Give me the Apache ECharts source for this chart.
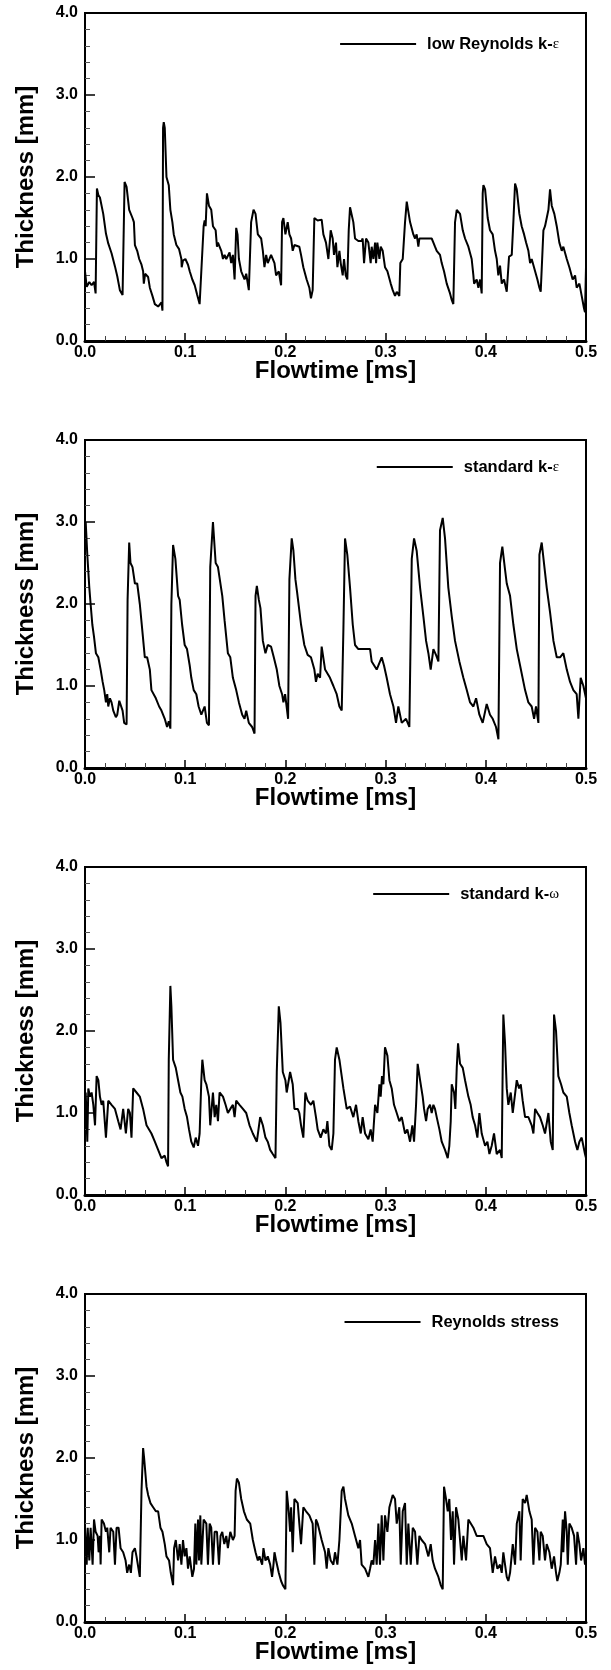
<!DOCTYPE html>
<html>
<head>
<meta charset="utf-8">
<script src="https://cdn.jsdelivr.net/npm/echarts@6/dist/echarts.min.js"></script>
<style>
html,body{margin:0;padding:0;background:#fff;}
#chart{width:611px;height:1670px;}
</style>
</head>
<body>
<div id="chart"></div>
<script>
// ---------- data (time in ms, thickness in mm) ----------
const lowReT = [0.000,0.0017,0.0043,0.0066,0.0090,0.0106,0.0116,0.0119,0.0133,0.0149,0.0182,0.0209,0.0232,0.0265,0.0299,0.0322,0.0348,0.0375,0.0388,0.0395,0.0415,0.0441,0.0474,0.0488,0.0498,0.0521,0.0541,0.0564,0.0580,0.0587,0.0600,0.0630,0.0647,0.0673,0.0697,0.0730,0.0746,0.0763,0.0773,0.0779,0.0786,0.0796,0.0813,0.0836,0.0852,0.0872,0.0886,0.0912,0.0939,0.0962,0.0965,0.0978,0.1002,0.1028,0.1045,0.1071,0.1095,0.1118,0.1144,0.1158,0.1184,0.1194,0.1204,0.1217,0.1237,0.1260,0.1277,0.1304,0.1317,0.1327,0.1360,0.1377,0.1393,0.1410,0.1443,0.1459,0.1476,0.1493,0.1509,0.1522,0.1536,0.1559,0.1592,0.1609,0.1635,0.1658,0.1682,0.1702,0.1725,0.1758,0.1775,0.1791,0.1808,0.1824,0.1857,0.1891,0.1907,0.1934,0.1957,0.1967,0.1980,0.2000,0.2023,0.2040,0.2057,0.2073,0.2090,0.2139,0.2156,0.2179,0.2212,0.2239,0.2255,0.2272,0.2289,0.2322,0.2362,0.2379,0.2405,0.2429,0.2452,0.2472,0.2485,0.2505,0.2519,0.2539,0.2552,0.2572,0.2585,0.2602,0.2618,0.2632,0.2645,0.2678,0.2695,0.2728,0.2761,0.2771,0.2785,0.2805,0.2828,0.2851,0.2861,0.2878,0.2895,0.2905,0.2918,0.2938,0.2951,0.2971,0.2994,0.3018,0.3051,0.3071,0.3094,0.3111,0.3137,0.3147,0.3171,0.3194,0.3211,0.3244,0.3277,0.3294,0.3310,0.3327,0.3337,0.3460,0.3477,0.3493,0.3510,0.3543,0.3560,0.3583,0.3610,0.3643,0.3660,0.3676,0.3693,0.3710,0.3726,0.3743,0.3770,0.3793,0.3826,0.3859,0.3876,0.3883,0.3909,0.3926,0.3943,0.3959,0.3969,0.3976,0.3993,0.4019,0.4042,0.4069,0.4092,0.4109,0.4125,0.4142,0.4159,0.4182,0.4209,0.4225,0.4232,0.4259,0.4275,0.4292,0.4309,0.4335,0.4358,0.4382,0.4402,0.4425,0.4442,0.4458,0.4492,0.4515,0.4535,0.4548,0.4575,0.4591,0.4625,0.4641,0.4658,0.4684,0.4708,0.4734,0.4758,0.4774,0.4808,0.4834,0.4867,0.4891,0.4907,0.4934,0.4957,0.4980,0.4990,0.5000];
const lowReY = [0.85,0.66,0.72,0.68,0.72,0.58,0.60,1.86,1.78,1.75,1.55,1.31,1.19,1.07,0.91,0.79,0.62,0.56,0.58,1.94,1.88,1.60,1.50,1.45,1.17,1.10,1.00,0.93,0.85,0.70,0.82,0.78,0.65,0.55,0.45,0.42,0.40,0.47,0.37,2.60,2.67,2.60,2.00,1.90,1.60,1.45,1.30,1.17,1.12,1.00,0.90,0.98,1.00,0.93,0.85,0.75,0.68,0.57,0.45,0.47,1.40,1.47,1.40,1.80,1.65,1.60,1.40,1.35,1.15,1.20,1.10,1.00,1.05,1.00,1.08,0.95,1.05,0.75,1.38,1.30,1.00,0.85,0.75,0.82,0.62,1.45,1.60,1.55,1.30,1.25,1.10,0.90,1.05,0.95,1.05,0.95,0.80,0.85,0.68,1.45,1.50,1.30,1.45,1.30,1.25,1.10,1.17,1.15,1.05,0.90,0.75,0.65,0.52,0.62,1.50,1.47,1.48,1.30,1.20,1.00,1.35,1.25,1.05,1.20,0.90,1.10,0.95,0.80,1.00,0.80,0.75,1.35,1.63,1.45,1.25,1.22,1.22,1.25,0.95,1.25,1.20,0.95,1.15,1.00,1.20,0.95,1.20,1.00,1.15,1.10,0.90,0.85,0.70,0.62,0.55,0.60,0.55,0.95,1.00,1.45,1.70,1.45,1.30,1.25,1.30,1.15,1.25,1.25,1.20,1.15,1.10,1.05,0.95,0.85,0.70,0.58,0.50,0.45,1.45,1.60,1.58,1.55,1.35,1.25,1.15,1.00,0.80,0.70,0.75,0.65,0.75,0.58,1.80,1.90,1.85,1.50,1.35,1.30,1.10,1.00,0.80,0.92,0.70,0.75,0.60,0.62,1.03,1.05,1.45,1.92,1.85,1.55,1.40,1.30,1.20,1.10,0.95,1.00,0.85,0.75,0.65,0.60,1.35,1.40,1.60,1.85,1.65,1.55,1.40,1.20,1.10,1.15,1.00,0.90,0.75,0.80,0.65,0.70,0.55,0.40,0.35,0.90];

const stdKeT = [0.0007,0.0023,0.0043,0.0056,0.0073,0.0090,0.0109,0.0133,0.0156,0.0176,0.0192,0.0209,0.0222,0.0232,0.0249,0.0265,0.0282,0.0308,0.0322,0.0342,0.0355,0.0375,0.0391,0.0415,0.0425,0.0441,0.0454,0.0474,0.0498,0.0521,0.0547,0.0574,0.0597,0.0620,0.0647,0.0663,0.0680,0.0707,0.0740,0.0763,0.0796,0.0819,0.0836,0.0852,0.0862,0.0879,0.0902,0.0929,0.0945,0.0969,0.0995,0.1018,0.1045,0.1061,0.1085,0.1111,0.1134,0.1161,0.1178,0.1194,0.1217,0.1237,0.1250,0.1277,0.1304,0.1327,0.1370,0.1393,0.1426,0.1450,0.1476,0.1509,0.1536,0.1569,0.1592,0.1609,0.1635,0.1668,0.1692,0.1702,0.1715,0.1735,0.1751,0.1775,0.1801,0.1824,0.1857,0.1884,0.1914,0.1940,0.1967,0.1980,0.1997,0.2027,0.2040,0.2063,0.2080,0.2100,0.2116,0.2156,0.2189,0.2222,0.2255,0.2289,0.2305,0.2322,0.2346,0.2362,0.2396,0.2445,0.2479,0.2512,0.2539,0.2562,0.2579,0.2595,0.2618,0.2645,0.2672,0.2695,0.2728,0.2845,0.2861,0.2911,0.2961,0.2984,0.3011,0.3044,0.3078,0.3104,0.3127,0.3161,0.3204,0.3237,0.3261,0.3284,0.3310,0.3344,0.3377,0.3404,0.3427,0.3450,0.3477,0.3503,0.3527,0.3543,0.3570,0.3593,0.3626,0.3660,0.3693,0.3736,0.3776,0.3810,0.3843,0.3876,0.3903,0.3936,0.3969,0.4009,0.4042,0.4069,0.4102,0.4126,0.4142,0.4165,0.4189,0.4209,0.4242,0.4275,0.4309,0.4342,0.4392,0.4425,0.4458,0.4482,0.4501,0.4525,0.4535,0.4558,0.4585,0.4608,0.4641,0.4675,0.4708,0.4741,0.4774,0.4808,0.4841,0.4874,0.4907,0.4924,0.4947,0.4974,0.5000];
const stdKeY = [3.00,2.60,2.20,2.00,1.75,1.60,1.40,1.35,1.20,1.05,0.95,0.80,0.90,0.75,0.85,0.80,0.70,0.62,0.65,0.82,0.82,0.70,0.55,0.53,2.05,2.75,2.50,2.45,2.25,2.25,2.00,1.65,1.35,1.35,1.20,0.95,0.97,0.85,0.75,0.70,0.60,0.50,0.57,0.48,2.00,2.72,2.55,2.10,2.05,1.75,1.50,1.45,1.25,1.10,0.95,0.90,0.75,0.65,0.65,0.75,0.55,0.52,2.45,3.00,2.50,2.45,2.10,1.80,1.40,1.35,1.10,0.95,0.80,0.65,0.60,0.70,0.55,0.50,0.42,2.10,2.22,2.05,1.95,1.55,1.40,1.50,1.48,1.35,1.20,1.00,0.90,0.80,0.90,0.60,2.30,2.80,2.65,2.30,2.15,1.75,1.50,1.38,1.35,1.20,1.05,1.15,1.10,1.48,1.20,1.10,1.00,0.90,0.75,0.70,1.70,2.80,2.60,2.20,1.75,1.50,1.45,1.45,1.30,1.20,1.35,1.25,1.10,0.90,0.75,0.55,0.75,0.55,0.60,0.50,2.55,2.80,2.65,2.20,1.85,1.55,1.40,1.20,1.45,1.38,1.30,2.90,3.05,2.80,2.20,1.85,1.55,1.30,1.10,0.95,0.80,0.75,0.85,0.65,0.55,0.78,0.65,0.60,0.50,0.35,2.50,2.70,2.45,2.25,2.10,1.75,1.45,1.25,0.95,0.80,0.75,0.60,0.75,0.55,2.60,2.75,2.45,2.20,1.90,1.55,1.35,1.35,1.40,1.20,1.05,0.95,0.90,0.60,1.10,1.00,0.85];

const stdKwT = [0.0007,0.0023,0.0033,0.0050,0.0066,0.0083,0.0100,0.0116,0.0133,0.0149,0.0166,0.0182,0.0209,0.0232,0.0265,0.0299,0.0332,0.0355,0.0381,0.0408,0.0431,0.0448,0.0464,0.0481,0.0514,0.0547,0.0580,0.0614,0.0663,0.0697,0.0730,0.0763,0.0796,0.0813,0.0829,0.0836,0.0852,0.0862,0.0879,0.0906,0.0929,0.0952,0.0972,0.0995,0.1018,0.1038,0.1061,0.1085,0.1105,0.1128,0.1144,0.1161,0.1171,0.1194,0.1211,0.1237,0.1250,0.1277,0.1294,0.1310,0.1327,0.1343,0.1377,0.1403,0.1426,0.1450,0.1476,0.1493,0.1509,0.1542,0.1576,0.1609,0.1642,0.1675,0.1692,0.1715,0.1748,0.1775,0.1801,0.1824,0.1848,0.1874,0.1901,0.1914,0.1934,0.1951,0.1974,0.2000,0.2013,0.2047,0.2073,0.2090,0.2123,0.2139,0.2156,0.2179,0.2199,0.2222,0.2255,0.2279,0.2305,0.2322,0.2352,0.2379,0.2405,0.2419,0.2439,0.2462,0.2479,0.2495,0.2512,0.2539,0.2562,0.2579,0.2612,0.2645,0.2678,0.2705,0.2728,0.2752,0.2771,0.2795,0.2828,0.2851,0.2871,0.2895,0.2918,0.2938,0.2951,0.2964,0.2978,0.2994,0.3018,0.3038,0.3061,0.3084,0.3111,0.3137,0.3161,0.3194,0.3217,0.3244,0.3267,0.3284,0.3304,0.3320,0.3344,0.3370,0.3384,0.3404,0.3420,0.3443,0.3460,0.3477,0.3493,0.3510,0.3537,0.3560,0.3593,0.3620,0.3636,0.3650,0.3660,0.3683,0.3696,0.3710,0.3723,0.3743,0.3770,0.3793,0.3826,0.3849,0.3869,0.3893,0.3916,0.3936,0.3959,0.3993,0.4016,0.4036,0.4059,0.4082,0.4109,0.4142,0.4159,0.4169,0.4175,0.4192,0.4209,0.4225,0.4249,0.4269,0.4309,0.4332,0.4349,0.4368,0.4392,0.4425,0.4458,0.4475,0.4492,0.4515,0.4541,0.4568,0.4591,0.4625,0.4648,0.4668,0.4675,0.4681,0.4701,0.4724,0.4751,0.4774,0.4808,0.4834,0.4857,0.4891,0.4914,0.4934,0.4957,0.4990,0.5000];
const stdKwY = [1.25,0.65,1.30,1.20,1.25,1.10,0.85,1.45,1.40,1.20,1.10,1.15,0.70,1.15,1.10,1.05,0.90,0.80,1.05,0.75,1.05,1.00,0.70,1.30,1.25,1.20,1.05,0.85,0.75,0.65,0.55,0.45,0.48,0.40,0.35,1.65,2.55,2.30,1.65,1.55,1.40,1.25,1.20,1.05,0.95,0.80,0.65,0.58,0.70,0.60,0.75,1.40,1.65,1.40,1.35,1.20,0.85,1.25,0.95,1.10,0.90,1.25,1.20,1.10,1.00,1.05,1.10,0.95,1.15,1.10,1.05,1.00,0.85,0.75,0.75,0.65,0.95,0.85,0.70,0.65,0.55,0.50,0.45,1.50,2.30,2.10,1.50,1.40,1.25,1.50,1.35,1.05,1.05,1.00,0.85,0.70,1.25,1.15,1.10,1.15,0.95,0.80,0.70,0.80,0.75,0.90,0.60,0.55,0.75,1.65,1.80,1.65,1.45,1.30,1.05,1.08,0.95,1.10,0.90,0.75,0.95,0.75,0.68,0.80,0.65,1.10,1.00,1.35,1.20,1.45,1.35,1.80,1.70,1.40,1.30,1.10,1.00,0.90,0.95,0.75,0.80,0.65,0.85,0.65,1.10,1.60,1.40,1.20,1.05,0.90,1.05,1.10,1.00,1.10,1.05,0.95,0.80,0.65,0.55,0.45,0.60,0.90,1.35,1.25,1.05,1.55,1.85,1.60,1.55,1.40,1.20,1.10,0.95,0.85,0.70,1.00,0.75,0.60,0.65,0.50,0.60,0.75,0.50,0.55,0.45,1.60,2.20,1.85,1.30,1.10,1.25,1.00,1.40,1.30,1.35,1.15,0.95,0.95,0.85,0.75,1.05,1.00,0.95,0.85,0.75,1.00,0.65,0.55,1.50,2.20,2.00,1.45,1.35,1.25,1.20,1.00,0.85,0.65,0.55,0.65,0.70,0.50,0.45];

const rsmT = [0.0000,0.0017,0.0027,0.0043,0.0056,0.0076,0.0090,0.0106,0.0126,0.0136,0.0149,0.0156,0.0166,0.0189,0.0209,0.0222,0.0242,0.0255,0.0282,0.0299,0.0315,0.0335,0.0355,0.0381,0.0405,0.0421,0.0441,0.0458,0.0474,0.0498,0.0514,0.0547,0.0564,0.0580,0.0590,0.0614,0.0630,0.0653,0.0680,0.0707,0.0730,0.0753,0.0773,0.0796,0.0813,0.0839,0.0856,0.0879,0.0889,0.0906,0.0929,0.0945,0.0962,0.0978,0.0995,0.1012,0.1028,0.1045,0.1071,0.1088,0.1101,0.1111,0.1128,0.1138,0.1151,0.1161,0.1184,0.1211,0.1227,0.1244,0.1260,0.1277,0.1294,0.1317,0.1337,0.1353,0.1370,0.1390,0.1410,0.1426,0.1450,0.1476,0.1493,0.1503,0.1516,0.1536,0.1559,0.1586,0.1615,0.1649,0.1675,0.1702,0.1725,0.1741,0.1768,0.1781,0.1801,0.1824,0.1848,0.1867,0.1881,0.1891,0.1907,0.1934,0.1957,0.1974,0.2000,0.2013,0.2033,0.2047,0.2057,0.2073,0.2090,0.2123,0.2139,0.2156,0.2179,0.2206,0.2239,0.2272,0.2289,0.2305,0.2322,0.2362,0.2396,0.2412,0.2429,0.2452,0.2479,0.2495,0.2519,0.2539,0.2562,0.2579,0.2595,0.2628,0.2662,0.2695,0.2728,0.2745,0.2761,0.2795,0.2828,0.2845,0.2861,0.2878,0.2895,0.2911,0.2928,0.2944,0.2961,0.2978,0.2994,0.3018,0.3038,0.3071,0.3094,0.3111,0.3137,0.3151,0.3171,0.3194,0.3211,0.3227,0.3251,0.3271,0.3294,0.3317,0.3337,0.3360,0.3394,0.3427,0.3450,0.3470,0.3493,0.3527,0.3550,0.3570,0.3583,0.3603,0.3620,0.3636,0.3653,0.3670,0.3683,0.3703,0.3726,0.3760,0.3776,0.3803,0.3826,0.3876,0.3909,0.3976,0.4009,0.4042,0.4069,0.4092,0.4116,0.4142,0.4159,0.4175,0.4209,0.4225,0.4242,0.4269,0.4292,0.4309,0.4335,0.4348,0.4368,0.4392,0.4408,0.4435,0.4458,0.4475,0.4492,0.4515,0.4535,0.4548,0.4568,0.4591,0.4608,0.4635,0.4658,0.4681,0.4701,0.4714,0.4734,0.4748,0.4768,0.4774,0.4791,0.4808,0.4818,0.4834,0.4857,0.4881,0.4901,0.4914,0.4934,0.4951,0.4974,0.4990,0.5000];
const rsmY = [1.15,0.70,1.15,0.75,1.15,0.70,1.25,1.10,1.05,0.85,1.05,0.70,1.25,1.20,1.10,1.15,0.85,1.15,1.10,0.70,1.15,1.15,0.90,0.85,0.75,0.60,0.70,0.60,0.85,0.90,0.80,0.55,1.60,2.12,2.00,1.65,1.55,1.45,1.40,1.35,1.35,1.15,1.10,0.95,0.80,0.75,0.60,0.45,0.90,1.00,0.75,0.95,0.70,1.00,0.80,0.90,0.65,0.80,0.55,0.65,1.20,0.70,1.25,0.75,1.30,0.70,1.25,1.20,0.70,1.20,1.15,0.70,1.10,1.10,0.70,1.05,1.10,0.95,1.05,0.90,1.10,1.00,1.05,1.60,1.75,1.70,1.50,1.35,1.25,1.20,1.00,0.85,0.75,0.80,0.70,0.90,0.75,0.80,0.70,0.55,0.70,0.85,0.75,0.60,0.50,0.45,0.40,1.60,1.35,1.10,1.40,0.85,1.50,1.45,1.20,0.95,1.40,1.35,1.30,1.20,0.70,1.25,1.20,1.00,0.85,0.65,0.90,0.75,0.70,0.85,0.70,1.00,1.60,1.65,1.50,1.30,1.20,1.05,0.90,1.00,0.70,0.65,0.55,0.65,0.75,0.70,1.00,0.70,1.20,0.70,1.30,0.75,1.30,1.10,1.40,1.55,1.50,1.20,1.40,0.70,1.35,1.45,0.70,1.20,0.70,1.15,1.10,0.70,1.05,1.00,0.95,0.80,0.95,0.75,0.65,0.55,0.45,0.40,1.65,1.50,1.35,1.50,1.00,1.35,0.70,1.40,1.25,0.75,1.05,0.75,1.25,1.15,1.05,1.05,0.95,0.90,0.60,0.80,0.65,0.70,0.60,0.85,0.55,0.50,0.60,0.95,0.70,1.20,1.35,0.75,1.50,1.45,1.55,1.35,1.25,0.70,1.15,1.10,0.75,1.10,1.05,0.75,0.95,0.85,0.65,0.80,0.60,0.50,0.60,0.70,1.25,0.85,1.35,1.10,0.70,1.20,1.15,1.05,0.70,1.10,0.95,0.75,0.90,0.70,0.80];

const seriesNames = ['low Reynolds k-', 'standard k-', 'standard k-', 'Reynolds stress'];
const greekSuffix = ['ε', 'ε', 'ω', ''];
const seriesIds = ['lowRe', 'stdKe', 'stdKw', 'rsm'];
const timeArrays = [lowReT, stdKeT, stdKwT, rsmT];
const valueArrays = [lowReY, stdKeY, stdKwY, rsmY];
const xTickLabels = ['0.0', '0.1', '0.2', '0.3', '0.4', '0.5'];
const yTickLabels = ['0.0', '1.0', '2.0', '3.0', '4.0'];
const xTitle = 'Flowtime [ms]';
const yTitle = 'Thickness [mm]';

// ---------- layout ----------
const gridTop0 = 13, gridStep = 427, gridH = 328, gridLeft = 85, gridW = 501;
const legendCenterOffset = [31, 27, 27, 28];

const chart = echarts.init(document.getElementById('chart'), null, {renderer: 'canvas'});

const tickFont = {color: '#000', fontFamily: 'Liberation Sans', fontWeight: 'bold', fontSize: 16};
const grids = [], xAxes = [], yAxes = [], series = [], legends = [];
for (let i = 0; i < 4; i++) {
  const top = gridTop0 + gridStep * i;
  grids.push({left: gridLeft, top: top, width: gridW, height: gridH, show: true,
    borderColor: '#000', borderWidth: 2, backgroundColor: 'transparent', outerBoundsMode: 'none'});
  xAxes.push({
    gridIndex: i, type: 'value', min: 0, max: 0.5, interval: 0.1,
    axisLine: {show: true, onZero: false, lineStyle: {color: '#000', width: 3}},
    axisTick: {show: true, inside: true, length: 8, lineStyle: {color: '#000', width: 1.5}},
    minorTick: {show: true, splitNumber: 5, length: 5, lineStyle: {color: '#444', width: 1}},
    splitLine: {show: false},
    axisLabel: Object.assign({show: true, margin: 4, showMinLabel: true, showMaxLabel: true, hideOverlap: false,
      formatter: v => xTickLabels[Math.round(v * 10)]}, tickFont),
    name: xTitle, nameLocation: 'middle', nameGap: 18, nameMoveOverlap: false,
    nameTextStyle: {color: '#000', fontFamily: 'Liberation Sans', fontWeight: 'bold', fontSize: 24}
  });
  yAxes.push({
    gridIndex: i, type: 'value', min: 0, max: 4, interval: 1,
    axisLine: {show: true, onZero: false, lineStyle: {color: '#000', width: 2}},
    axisTick: {show: true, inside: true, length: 10, lineStyle: {color: '#000', width: 1.5}},
    minorTick: {show: true, splitNumber: 5, length: 5, lineStyle: {color: '#555', width: 1}},
    splitLine: {show: false},
    axisLabel: Object.assign({show: true, margin: 7, showMinLabel: true, showMaxLabel: true, hideOverlap: false,
      formatter: v => yTickLabels[Math.round(v)]}, tickFont),
    name: yTitle, nameLocation: 'middle', nameRotate: 90, nameGap: 47, nameMoveOverlap: false,
    nameTextStyle: {color: '#000', fontFamily: 'Liberation Sans', fontWeight: 'bold', fontSize: 24}
  });
  const t = timeArrays[i], v = valueArrays[i];
  series.push({
    id: seriesIds[i], name: seriesIds[i], type: 'line', xAxisIndex: i, yAxisIndex: i,
    data: t.map((tt, k) => [tt, v[k]]),
    showSymbol: false, symbol: 'none', smooth: false, clip: true,
    color: '#000',
    lineStyle: {color: '#000', width: 2},
    emphasis: {disabled: true}, animation: false
  });
  const label = seriesNames[i], greek = greekSuffix[i];
  legends.push({
    data: [seriesIds[i]], right: 52, top: top + legendCenterOffset[i] - 10,
    orient: 'horizontal', padding: 0, icon: 'rect', itemWidth: 76, itemHeight: 2,
    itemStyle: {color: '#000'}, selectedMode: false,
    formatter: () => greek ? '{a|' + label + '}{g|' + greek + '}' : '{a|' + label + '}',
    textStyle: {color: '#000', lineHeight: 20,
      rich: {
        a: {fontFamily: 'Liberation Sans', fontWeight: 'bold', fontSize: 16.5, color: '#000', padding: [0, 0, 0, 6], lineHeight: 20},
        g: {fontFamily: 'Liberation Serif', fontWeight: 'normal', fontSize: 15, color: '#000', lineHeight: 20}
      }}
  });
}

chart.setOption({
  animation: false,
  backgroundColor: '#fff',
  grid: grids, xAxis: xAxes, yAxis: yAxes, series: series, legend: legends
});
</script>
</body>
</html>
